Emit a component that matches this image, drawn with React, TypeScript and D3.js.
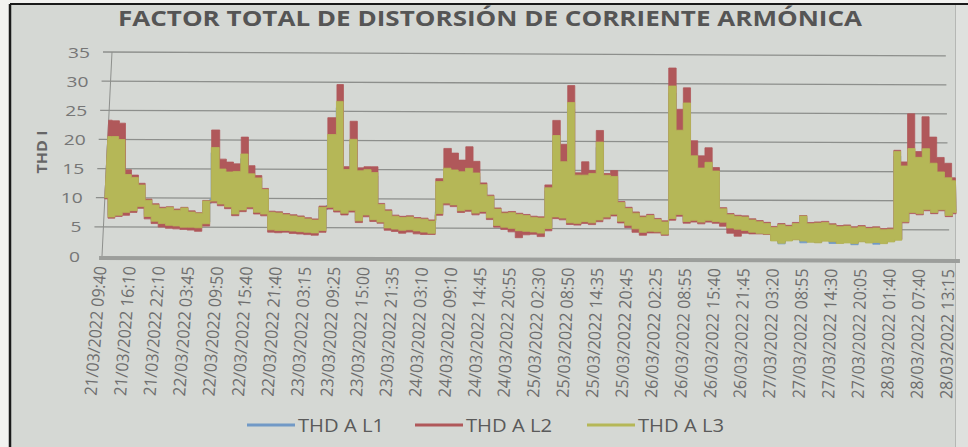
import React from "react";
import * as d3 from "d3";

// ---------- DATA ----------
const titleText = "FACTOR TOTAL DE DISTORSIÓN DE CORRIENTE ARMÓNICA";
const yAxisTitle = "THD I";
const tickLabels = [
  "21/03/2022 09:40", "21/03/2022 16:10", "21/03/2022 22:10", "22/03/2022 03:45",
  "22/03/2022 09:50", "22/03/2022 15:40", "22/03/2022 21:40", "23/03/2022 03:15",
  "23/03/2022 09:25", "23/03/2022 15:00", "23/03/2022 21:35", "24/03/2022 03:10",
  "24/03/2022 09:10", "24/03/2022 14:45", "24/03/2022 20:55", "25/03/2022 02:30",
  "25/03/2022 08:50", "25/03/2022 14:35", "25/03/2022 20:45", "26/03/2022 02:25",
  "26/03/2022 08:55", "26/03/2022 15:40", "26/03/2022 21:45", "27/03/2022 03:20",
  "27/03/2022 08:55", "27/03/2022 14:30", "27/03/2022 20:05", "28/03/2022 01:40",
  "28/03/2022 07:40", "28/03/2022 13:15",
];
const yTicks = [0, 5, 10, 15, 20, 25, 30, 35];
const seriesNames = ["THD A L1", "THD A L2", "THD A L3"];
const seriesColors = ["#7199c6", "#b0585a", "#b5b757"];

// envelopes (upper / lower edge of the dense trace), one sample per quarter label interval
const l1Hi = [
  19.5, 19.6, 19.2, 13.4, 13.0, 11.8, 9.3, 8.5, 7.9, 8.1,
  7.6, 8.0, 7.3, 7.1, 9.1, 17.8, 14.4, 14.0, 14.1, 16.8,
  13.7, 13.0, 11.1, 7.3, 7.2, 6.9, 6.7, 6.5, 6.2, 6.0,
  8.1, 20.1, 25.6, 14.4, 19.3, 14.2, 14.4, 13.9, 8.6, 7.6,
  6.7, 6.5, 6.6, 6.3, 6.2, 5.9, 12.4, 14.6, 14.4, 14.1,
  14.6, 13.9, 12.0, 10.1, 8.0, 7.3, 7.4, 7.1, 6.9, 6.6,
  6.5, 11.5, 20.1, 15.8, 25.6, 13.6, 13.7, 13.9, 19.0, 13.6,
  13.4, 9.1, 8.2, 7.4, 6.7, 7.0, 6.3, 5.9, 28.4, 21.1,
  25.6, 16.9, 14.9, 15.8, 14.4, 8.2, 7.2, 6.9, 6.8, 6.3,
  6.0, 5.7, 5.0, 5.5, 5.2, 5.7, 7.0, 5.7, 5.8, 5.9,
  5.5, 5.2, 5.3, 5.0, 5.2, 4.9, 5.0, 4.7, 4.8, 17.7,
  15.3, 18.2, 16.8, 18.2, 15.8, 14.4, 13.4, 12.9,
];
const l1Lo = [
  10.3, 7.0, 7.3, 7.8, 8.1, 8.8, 7.1, 6.3, 5.9, 5.6,
  5.5, 5.3, 5.3, 5.2, 5.9, 9.8, 9.3, 8.8, 7.6, 8.3,
  8.8, 7.9, 7.6, 4.9, 4.8, 4.8, 4.7, 4.6, 4.5, 4.4,
  4.8, 8.8, 8.3, 7.8, 8.3, 6.5, 7.5, 6.7, 6.3, 5.3,
  5.1, 4.9, 5.0, 4.8, 4.6, 4.4, 7.8, 9.6, 9.3, 8.3,
  8.5, 7.9, 8.2, 7.1, 5.8, 5.5, 5.3, 4.9, 4.8, 4.7,
  4.5, 5.3, 7.3, 7.1, 6.3, 6.2, 6.5, 6.3, 6.8, 7.3,
  7.8, 6.6, 5.9, 5.3, 4.7, 4.9, 4.8, 4.4, 7.1, 7.8,
  6.6, 6.8, 6.5, 6.8, 6.6, 6.5, 5.5, 5.3, 5.1, 4.8,
  4.6, 4.5, 3.1, 2.5, 3.1, 3.3, 2.7, 2.9, 2.8, 3.1,
  2.6, 2.7, 2.8, 2.4, 3.0, 2.8, 2.5, 2.7, 3.0, 3.4,
  6.7, 8.3, 8.1, 8.8, 8.3, 8.8, 7.8, 8.3,
];
const l2Hi = [
  23.3, 23.2, 22.8, 14.8, 13.9, 12.5, 9.8, 9.0, 8.4, 8.5,
  8.1, 8.4, 7.8, 7.5, 9.6, 21.7, 16.7, 16.2, 15.9, 20.5,
  15.6, 13.9, 11.7, 7.8, 7.7, 7.4, 7.2, 7.0, 6.7, 6.5,
  8.7, 23.9, 29.6, 15.5, 23.3, 15.3, 15.5, 15.5, 9.2, 8.1,
  7.2, 7.0, 7.1, 6.8, 6.7, 6.4, 13.5, 18.7, 17.9, 16.7,
  19.0, 16.5, 12.8, 10.7, 8.5, 7.8, 7.9, 7.6, 7.4, 7.1,
  7.0, 12.5, 23.6, 19.5, 29.6, 14.6, 16.5, 15.0, 21.9, 14.5,
  15.0, 9.7, 8.7, 7.9, 7.2, 7.5, 6.8, 6.4, 32.7, 25.6,
  29.3, 20.2, 17.6, 19.0, 15.6, 8.7, 7.7, 7.4, 7.3, 6.8,
  6.5, 6.2, 5.5, 6.0, 5.7, 6.2, 7.4, 6.2, 6.3, 6.4,
  6.0, 5.7, 5.8, 5.5, 5.7, 5.4, 5.5, 5.2, 5.3, 18.7,
  16.7, 25.0, 18.5, 24.5, 21.0, 17.5, 16.5, 14.0,
];
const l2Lo = [
  9.8, 6.5, 6.8, 7.0, 7.5, 8.2, 6.4, 5.6, 5.0, 4.8,
  4.7, 4.6, 4.5, 4.3, 5.2, 9.2, 8.7, 8.2, 7.0, 7.7,
  8.2, 7.3, 7.0, 4.2, 4.1, 4.2, 4.0, 3.9, 3.8, 3.7,
  4.2, 8.2, 7.7, 7.2, 7.7, 5.9, 6.9, 6.1, 5.8, 4.6,
  4.4, 4.1, 4.3, 4.0, 3.9, 3.9, 7.2, 9.0, 8.7, 7.7,
  7.9, 7.3, 7.6, 6.5, 5.2, 4.8, 4.4, 3.4, 3.9, 4.0,
  3.6, 4.6, 6.7, 6.5, 5.7, 5.6, 5.9, 5.7, 6.2, 6.7,
  7.2, 6.0, 5.2, 4.4, 3.9, 4.3, 4.3, 3.9, 6.5, 7.2,
  6.0, 6.2, 5.9, 6.2, 6.0, 5.5, 4.3, 3.8, 4.3, 4.2,
  4.2, 4.1, 3.1, 2.8, 3.1, 3.3, 3.1, 2.9, 2.8, 3.1,
  3.0, 2.7, 2.8, 2.7, 3.0, 2.8, 2.9, 2.7, 3.0, 3.3,
  6.2, 7.8, 7.6, 8.3, 7.8, 8.3, 7.3, 7.8,
];
const l3Hi = [
  20.5, 20.5, 20.0, 14.0, 13.5, 12.2, 9.6, 8.8, 8.2, 8.4,
  7.9, 8.3, 7.6, 7.4, 9.5, 18.7, 15.0, 14.5, 14.6, 17.6,
  14.2, 13.5, 11.5, 7.6, 7.5, 7.2, 7.0, 6.8, 6.5, 6.3,
  8.5, 21.0, 26.7, 15.0, 20.2, 14.8, 15.0, 14.5, 9.0, 7.9,
  7.0, 6.8, 6.9, 6.6, 6.5, 6.2, 13.0, 15.3, 15.0, 14.7,
  15.3, 14.5, 12.5, 10.5, 8.3, 7.6, 7.7, 7.4, 7.2, 6.9,
  6.8, 12.0, 21.0, 16.5, 26.7, 14.2, 14.2, 14.5, 19.9, 14.2,
  14.0, 9.5, 8.5, 7.7, 7.0, 7.3, 6.6, 6.2, 29.6, 22.0,
  26.7, 17.6, 15.5, 16.5, 15.0, 8.5, 7.5, 7.2, 7.1, 6.6,
  6.3, 6.0, 5.3, 5.8, 5.5, 6.0, 7.3, 6.0, 6.1, 6.2,
  5.8, 5.5, 5.6, 5.3, 5.5, 5.2, 5.3, 5.0, 5.1, 18.5,
  16.0, 19.0, 17.5, 19.0, 16.5, 15.0, 14.0, 13.5,
];
const l3Lo = [
  10.0, 6.7, 7.0, 7.5, 7.8, 8.5, 6.8, 6.0, 5.6, 5.3,
  5.2, 5.0, 5.0, 4.9, 5.6, 9.5, 9.0, 8.5, 7.3, 8.0,
  8.5, 7.6, 7.3, 4.6, 4.5, 4.5, 4.4, 4.3, 4.2, 4.1,
  4.5, 8.5, 8.0, 7.5, 8.0, 6.2, 7.2, 6.4, 6.0, 5.0,
  4.8, 4.6, 4.7, 4.5, 4.3, 4.1, 7.5, 9.3, 9.0, 8.0,
  8.2, 7.6, 7.9, 6.8, 5.5, 5.2, 5.0, 4.6, 4.5, 4.4,
  4.2, 5.0, 7.0, 6.8, 6.0, 5.9, 6.2, 6.0, 6.5, 7.0,
  7.5, 6.3, 5.6, 5.0, 4.4, 4.6, 4.5, 4.1, 6.8, 7.5,
  6.3, 6.5, 6.2, 6.5, 6.3, 6.2, 5.2, 5.0, 4.8, 4.5,
  4.3, 4.2, 3.0, 2.6, 3.0, 3.2, 3.0, 2.8, 2.7, 3.0,
  2.9, 2.6, 2.7, 2.6, 2.9, 2.7, 2.8, 2.6, 2.9, 3.2,
  6.4, 8.0, 7.8, 8.5, 8.0, 8.5, 7.5, 8.0,
];

const SAMPLE_STEP = 0.25; // label intervals per sample

// ---------- LAYOUT ----------
const W = 968;
const H = 447;
// photographed plot corners (bottom-left, bottom-right, top-left, top-right)
const BL: [number, number] = [102, 256];
const BR: [number, number] = [957, 259];
const TL: [number, number] = [112, 52];
const TR: [number, number] = [953, 56];
const FONT = "'Open Sans', 'Noto Sans', sans-serif";

export default function App() {
  const n = l3Hi.length;
  const tMax = (n - 1) * SAMPLE_STEP;
  const uS = d3.scaleLinear().domain([0, tMax]).range([0, 1]);
  const wS = d3.scaleLinear().domain([0, 35]).range([0, 1]);

  const warp = (t: number, v: number): [number, number] => {
    const u = uS(t);
    const w = wS(v);
    const x =
      (1 - u) * (1 - w) * BL[0] + u * (1 - w) * BR[0] + (1 - u) * w * TL[0] + u * w * TR[0];
    const y =
      (1 - u) * (1 - w) * BL[1] + u * (1 - w) * BR[1] + (1 - u) * w * TL[1] + u * w * TR[1];
    return [x, y];
  };

  const band = (hi: number[], lo: number[]) =>
    d3
      .area<number>()
      .x0((_, i) => warp(i * SAMPLE_STEP, lo[i])[0])
      .y0((_, i) => warp(i * SAMPLE_STEP, lo[i])[1])
      .x1((_, i) => warp(i * SAMPLE_STEP, hi[i])[0])
      .y1((_, i) => warp(i * SAMPLE_STEP, hi[i])[1])
      .curve(d3.curveStep)(hi) || "";

  const bands = [
    { hi: l1Hi, lo: l1Lo, color: seriesColors[0] },
    { hi: l2Hi, lo: l2Lo, color: seriesColors[1] },
    { hi: l3Hi, lo: l3Lo, color: seriesColors[2] },
  ];

  const gridEnd = tickLabels.length - 1;
  const legendX = [247, 415, 587];

  return (
    <div style={{ position: "absolute", left: 0, top: 0, width: W, height: H }}>
      <svg width={W} height={H} viewBox={`0 0 ${W} ${H}`} style={{ display: "block" }}>
        <rect x={0} y={0} width={W} height={H} fill="#f2f2f0" />
        <rect x={10} y={4} width={W - 10} height={H - 4} fill="#d5d8d4" />
        <rect x={956} y={4} width={12} height={H - 4} fill="#dfe1de" />
        <line x1={955.5} y1={4} x2={955.5} y2={H} stroke="#b5b7b4" strokeWidth={1} />
        <line x1={10} y1={4} x2={W} y2={4} stroke="#1a1a1a" strokeWidth={2} />
        <line x1={10} y1={4} x2={10} y2={H} stroke="#1a1a1a" strokeWidth={2.5} />

        {/* title */}
        <text
          x={118}
          y={25.5}
          fontFamily={FONT}
          fontWeight={700}
          fontSize={21}
          fill="#555555"
          textLength={744}
          lengthAdjust="spacingAndGlyphs"
        >
          {titleText}
        </text>

        {/* gridlines + y ticks */}
        {yTicks.map((v) => {
          const [xa, ya] = warp(0, v);
          const [xb, yb] = warp(gridEnd, v);
          return (
            <g key={v}>
              {v > 0 && (
                <line x1={xa - 9} y1={ya} x2={xb} y2={yb} stroke="#8d8f8c" strokeWidth={1.3} />
              )}
              <text
                x={xa - 22}
                y={ya}
                textAnchor="end"
                dominantBaseline="central"
                fontFamily={FONT}
                fontSize={14}
                fill="#767676"
                textLength={String(v).length * 11}
                lengthAdjust="spacingAndGlyphs"
              >
                {v}
              </text>
            </g>
          );
        })}

        {/* left axis line */}
        {(() => {
          const [x0, y0] = warp(0, 0);
          const [x1, y1] = warp(0, 35);
          return <line x1={x0} y1={y0} x2={x1} y2={y1} stroke="#8d8f8c" strokeWidth={1} />;
        })()}

        {/* y axis title */}
        <text
          transform="translate(41,152) rotate(-90)"
          textAnchor="middle"
          dominantBaseline="central"
          fontFamily={FONT}
          fontWeight={700}
          fontSize={14}
          fill="#666"
          textLength={43}
          lengthAdjust="spacingAndGlyphs"
        >
          {yAxisTitle}
        </text>

        {/* series */}
        {bands.map((b, k) => (
          <path
            key={k}
            d={band(b.hi, b.lo)}
            fill={b.color}
            stroke={b.color}
            strokeWidth={0.8}
            strokeLinejoin="round"
          />
        ))}

        {/* x axis bar */}
        {(() => {
          const [x0, y0] = warp(-0.1, 0);
          const [x1, y1] = warp(tMax + 0.1, 0);
          return (
            <line x1={x0} y1={y0 + 2} x2={x1} y2={y1 + 2} stroke="#9c9e9b" strokeWidth={4} />
          );
        })()}

        {/* x tick labels */}
        {tickLabels.map((lab, i) => {
          const [bx, by] = warp(i, 0);
          const ax = bx - 2;
          const ay = by + 10;
          const ang = -85.6 - 3.5 * (i / (tickLabels.length - 1));
          return (
            <text
              key={lab}
              transform={`translate(${ax},${ay}) rotate(${ang})`}
              textAnchor="end"
              dominantBaseline="central"
              fontFamily={FONT}
              fontSize={17}
              fill="#6e6e6e"
              textLength={130}
              lengthAdjust="spacingAndGlyphs"
            >
              {lab}
            </text>
          );
        })}

        {/* legend */}
        {seriesNames.map((name, k) => (
          <g key={name}>
            <line
              x1={legendX[k]}
              y1={425}
              x2={legendX[k] + 48}
              y2={425}
              stroke={seriesColors[k]}
              strokeWidth={3}
            />
            <text
              x={legendX[k] + 51}
              y={431.5}
              fontFamily={FONT}
              fontSize={18}
              fill="#5a5a5a"
              textLength={86}
              lengthAdjust="spacingAndGlyphs"
            >
              {name}
            </text>
          </g>
        ))}
      </svg>
    </div>
  );
}
